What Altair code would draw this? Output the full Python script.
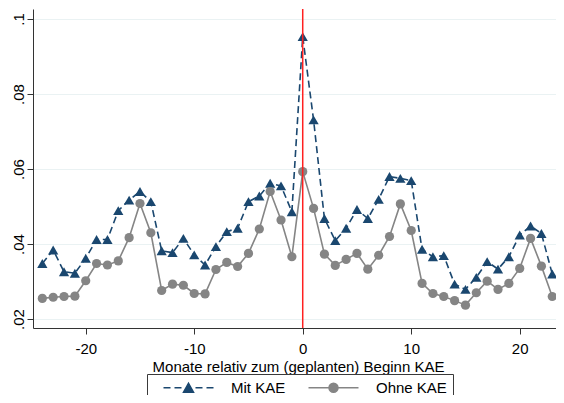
import altair as alt
import pandas as pd

# ---- data ----
months = list(range(-24, 24))

mit_kae = [
    0.0348, 0.0384, 0.0326, 0.0322, 0.0362, 0.0412, 0.0412, 0.0489, 0.0517, 0.0540, 0.0513, 0.0382,
    0.0377, 0.0415, 0.0371, 0.0344, 0.0393, 0.0433, 0.0442, 0.0513, 0.0528, 0.0562, 0.0555, 0.0486,
    0.0953, 0.0731, 0.0468, 0.0409, 0.0442, 0.0492, 0.0468, 0.0519, 0.0580, 0.0575, 0.0569, 0.0386,
    0.0366, 0.0369, 0.0293, 0.0279, 0.0311, 0.0353, 0.0333, 0.0366, 0.0424, 0.0448, 0.0428, 0.0320,
]
ohne_kae = [
    0.0255, 0.0258, 0.0260, 0.0261, 0.0302, 0.0348, 0.0344, 0.0355, 0.0417, 0.0508, 0.0430, 0.0276,
    0.0293, 0.0290, 0.0268, 0.0267, 0.0332, 0.0351, 0.0340, 0.0375, 0.0440, 0.0540, 0.0464, 0.0366,
    0.0593, 0.0495, 0.0373, 0.0343, 0.0359, 0.0375, 0.0333, 0.0370, 0.0420, 0.0507, 0.0436, 0.0295,
    0.0268, 0.0260, 0.0249, 0.0237, 0.0270, 0.0301, 0.0279, 0.0295, 0.0335, 0.0415, 0.0341, 0.0260,
]
series_names = ["Mit KAE", "Ohne KAE"]
x_ticks = [-20, -10, 0, 10, 20]
y_ticks = [0.02, 0.04, 0.06, 0.08, 0.1]
event_month = [0]
x_title = "Monate relativ zum (geplanten) Beginn KAE"

# ---- styles ----
NAVY = "#1a476f"
GRAY = "#858585"
RED = "#ff2020"
FONT = "Liberation Sans"
series_colors = [NAVY, GRAY]
# legend glyphs (dashed line + triangle, solid line + circle)
mit_glyph = ("M-1,0L0.4,0M1.2,0L2.6,0M5.4,0L6.8,0M7.6,0L9,0"
             "M3,0.9L5,0.9L4,-0.9Z")
ohne_glyph = ("M-1,0L9,0"
              "M4.9,0A0.9,0.9 0 1,1 3.1,0A0.9,0.9 0 1,1 4.9,0Z")

df = pd.DataFrame({
    "Monat": months * 2,
    "Wert": mit_kae + ohne_kae,
    "Gruppe": [series_names[0]] * len(months) + [series_names[1]] * len(months),
})
rule_df = pd.DataFrame({"Monat": event_month})

x_enc = alt.X(
    "Monat:Q",
    scale=alt.Scale(domain=[-24.86, 23.99], nice=False, zero=False),
    axis=alt.Axis(values=x_ticks, title=x_title, labelExpr="'' + datum.value",
                  grid=False, tickSize=6, labelPadding=7, titlePadding=3),
)
y_enc = alt.Y(
    "Wert:Q",
    scale=alt.Scale(domain=[0.0176, 0.10267], nice=False, zero=False),
    axis=alt.Axis(values=y_ticks, title=None,
                  labelExpr="replace(format(datum.value, '.2~f'), '0.', '.')",
                  grid=True, gridColor="#eaf2f3", gridWidth=1,
                  labelAngle=270, labelAlign="center", labelBaseline="alphabetic",
                  tickSize=6, labelPadding=4),
)

leg = alt.Legend(
    orient="none", legendX=114, legendY=365, direction="horizontal", title=None,
    padding=6, strokeColor="#3a3a3a", fillColor="white", cornerRadius=0,
    labelFont=FONT, labelFontSize=15, labelColor="black",
    symbolSize=100, symbolStrokeWidth=1.5, symbolOpacity=1,
    symbolOffset=8, labelOffset=55, columnPadding=12,
)

base = alt.Chart(df)

mit_line = base.transform_filter(alt.datum.Gruppe == series_names[0]).mark_line(
    color=NAVY, strokeDash=[7, 4], strokeWidth=1.6).encode(x=x_enc, y=y_enc)
mit_pts = base.transform_filter(alt.datum.Gruppe == series_names[0]).mark_point(
    shape="triangle-up", filled=True, size=105, color=NAVY, opacity=1).encode(x=x_enc, y=y_enc)
ohne_line = base.transform_filter(alt.datum.Gruppe == series_names[1]).mark_line(
    color=GRAY, strokeWidth=1.6).encode(x=x_enc, y=y_enc)
ohne_pts = base.transform_filter(alt.datum.Gruppe == series_names[1]).mark_point(
    shape="circle", filled=True, size=85, color=GRAY, opacity=1).encode(x=x_enc, y=y_enc)

rule = alt.Chart(rule_df).mark_rule(color=RED, strokeWidth=1.5).encode(x=x_enc)

legend_layer = base.mark_point(filled=True, opacity=0).encode(
    x=x_enc, y=y_enc,
    color=alt.Color("Gruppe:N", scale=alt.Scale(domain=series_names, range=series_colors), legend=leg),
    stroke=alt.Stroke("Gruppe:N", scale=alt.Scale(domain=series_names, range=series_colors), legend=leg),
    shape=alt.Shape("Gruppe:N", scale=alt.Scale(domain=series_names, range=[mit_glyph, ohne_glyph]), legend=leg),
)

chart = alt.layer(mit_line, mit_pts, ohne_line, ohne_pts, rule, legend_layer).properties(
    width=530, height=319,
    autosize=alt.AutoSizeParams(type="none"),
    padding={"left": 25, "top": 1, "right": -7, "bottom": 67},
).configure(font=FONT).configure_view(stroke=None).configure_axis(
    domainColor="#333333", tickColor="#333333", domainWidth=1, tickWidth=1,
    labelFont=FONT, labelFontSize=15, labelColor="black",
    titleFont=FONT, titleFontSize=15, titleFontWeight="normal", titleColor="black",
)

chart.save("out.html", embed_options={"renderer": "svg", "actions": False})
